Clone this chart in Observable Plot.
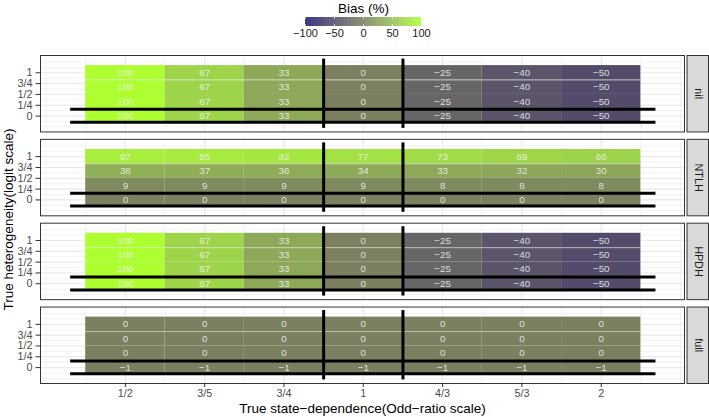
<!DOCTYPE html>
<html><head><meta charset="utf-8">
<script src="https://cdn.jsdelivr.net/npm/d3@7"></script>
<script src="https://cdn.jsdelivr.net/npm/@observablehq/plot@0.6"></script>
<style>
body{margin:0;background:#fff;}
#chart svg{display:block;}
</style></head><body><div id="chart"></div>
<script>
// ---- data ----
const panels = ["nil", "NTLH", "HPDH", "full"];
const stateLabels = ["1/2", "3/5", "3/4", "1", "4/3", "5/3", "2"];
const stateTicks = [0, 1, 2, 3, 4, 5, 6];
const heteroTickLabels = ["0", "1/4", "1/2", "3/4", "1"];
const heteroTicks = [0, 1, 2, 3, 4];
const heteroRows = [4, 2.667, 1.333, 0]; // tile rows, top to bottom
const biasNil = [
  [100, 67, 33, 0, -25, -40, -50],
  [100, 67, 33, 0, -25, -40, -50],
  [100, 67, 33, 0, -25, -40, -50],
  [100, 67, 33, 0, -25, -40, -50]
];
const biasNTLH = [
  [87, 85, 82, 77, 73, 69, 66],
  [38, 37, 36, 34, 33, 32, 30],
  [9, 9, 9, 9, 8, 8, 8],
  [0, 0, 0, 0, 0, 0, 0]
];
const biasHPDH = [
  [100, 67, 33, 0, -25, -40, -50],
  [100, 67, 33, 0, -25, -40, -50],
  [100, 67, 33, 0, -25, -40, -50],
  [100, 67, 33, 0, -25, -40, -50]
];
const biasFull = [
  [0, 0, 0, 0, 0, 0, 0],
  [0, 0, 0, 0, 0, 0, 0],
  [0, 0, 0, 0, 0, 0, 0],
  [-1, -1, -1, -1, -1, -1, -1]
];
const refH = [0.62, -0.57];          // thick horizontal reference lines (y units)
const refHSpan = [-0.69, 6.69];
const refV = [2.5, 3.5];             // thick vertical reference lines (x units)
const refVSpan = [-1.14, 5.27];
const legendTicks = [-100, -50, 0, 50, 100];
const legendTitle = "Bias (%)";
const xTitle = "True state\u2212dependence(Odd\u2212ratio scale)";
const yTitle = "True heterogeneity(logit scale)";

// ---- build table ----
const biasByPanel = {nil: biasNil, NTLH: biasNTLH, HPDH: biasHPDH, full: biasFull};
const cells = [];
for (const p of panels) biasByPanel[p].forEach((row, r) => row.forEach((v, c) =>
  cells.push({panel: p, x: stateTicks[c], y: heteroRows[r], bias: v})));
const halfRow = (heteroRows[0] - heteroRows[1]) / 2;
const topBoundary = (heteroRows[0] + heteroRows[1]) / 2;
const minorX = d3.range(-1, 7.01, 0.5);
const minorY = d3.range(-1, 5.01, 0.5);
const fmt = d => String(d).replace("-", "\u2212");

const FONT = '"Liberation Sans", Arial, Helvetica, sans-serif';
const colorOpts = {type: "linear", domain: [-100, 0, 100], range: ["#191970", "#7a8060", "#adff2f"], interpolate: "lab"};

// ---- legend ----
const legendSteps = d3.range(-100, 100, 1);
const legend = Plot.plot({
  width: 709, height: 45, marginLeft: 305, marginRight: 288, marginTop: 17, marginBottom: 19,
  style: {fontFamily: FONT, background: "white", overflow: "visible"},
  x: {domain: [-100, 100]},
  y: {domain: [0, 1]},
  color: colorOpts,
  marks: [
    Plot.rect(legendSteps, {x1: d => d, x2: d => d + 1.3, y1: 0, y2: 1, fill: d => d + 0.5}),
    Plot.ruleX(legendTicks, {y1: 0, y2: 0.2, stroke: "white", strokeWidth: 0.7}),
    Plot.ruleX(legendTicks, {y1: 0.8, y2: 1, stroke: "white", strokeWidth: 0.7}),
    Plot.axisX({ticks: legendTicks, tickSize: 0, tickPadding: 3, tickFormat: fmt, fontSize: 11, fill: "#1a1a1a", label: null}),
    Plot.axisY({ticks: [], tickSize: 0, label: null}),
    Plot.text([legendTitle], {frameAnchor: "top", dy: -4.5, lineAnchor: "bottom", fontSize: 13.5, fill: "black", text: d => d})
  ]
});

// ---- main ----
const main = Plot.plot({
  width: 709, height: 372, marginTop: 10, marginBottom: 34, marginLeft: 40, marginRight: 25,
  style: {fontFamily: FONT, background: "white", overflow: "visible"},
  x: {domain: [-1.07, 7.05]},
  y: {domain: [-1.47, 5.6]},
  fy: {domain: panels, paddingInner: 0.088, paddingOuter: 0, round: false},
  color: colorOpts,
  marks: [
    Plot.ruleX(minorX, {stroke: "#ebebeb", strokeWidth: 0.6}),
    Plot.ruleY(minorY, {stroke: "#ebebeb", strokeWidth: 0.6}),
    Plot.ruleX(stateTicks, {stroke: "#ebebeb", strokeWidth: 1.1}),
    Plot.ruleY(heteroTicks, {stroke: "#ebebeb", strokeWidth: 1.1}),
    Plot.rect(cells, {x1: d => d.x - 0.5, x2: d => d.x + 0.5, y1: d => d.y - halfRow, y2: d => d.y + halfRow, fy: "panel", fill: "bias"}),
    Plot.ruleY([topBoundary], {x1: stateTicks[0] - 0.5, x2: stateTicks[6] + 0.5, stroke: "#e2e8d4", strokeOpacity: 0.7, strokeWidth: 0.9}),
    Plot.text(cells, {x: "x", y: "y", fy: "panel", text: d => fmt(d.bias), fill: "#f4f4f4", fillOpacity: 0.85, fontSize: 9.8}),
    Plot.ruleY(refH, {x1: refHSpan[0], x2: refHSpan[1], stroke: "black", strokeWidth: 3}),
    Plot.ruleX(refV, {y1: refVSpan[0], y2: refVSpan[1], stroke: "black", strokeWidth: 3}),
    Plot.frame({stroke: "#333", strokeWidth: 1}),
    Plot.frame({fill: "#d9d9d9", stroke: "#333", strokeWidth: 1, insetLeft: 646.5, insetRight: -24}),
    Plot.axisFy({anchor: "right", tickSize: 0, tickRotate: 90, tickPadding: 13.5, lineAnchor: "middle", fontSize: 10.8, fill: "#1a1a1a", label: null}),
    Plot.axisY({ticks: heteroTicks, tickFormat: d => heteroTickLabels[heteroTicks.indexOf(d)], tickSize: 4.5, tickPadding: 3.5, fontSize: 10.8, stroke: "#333", fill: "#4d4d4d", label: null}),
    Plot.axisY({ticks: [], tickSize: 0, label: yTitle, labelAnchor: "center", labelArrow: false, labelOffset: 37, fontSize: 13.5, fill: "black"}),
    Plot.axisX({ticks: stateTicks, tickFormat: d => stateLabels[stateTicks.indexOf(d)], tickSize: 4, tickPadding: 2, fontSize: 10.8, stroke: "#333", fill: "#4d4d4d", label: null}),
    Plot.axisX({ticks: [], tickSize: 0, label: xTitle, labelAnchor: "center", labelArrow: false, labelOffset: 29, fontSize: 13.5, fill: "black"})
  ]
});

const root = document.getElementById("chart");
root.appendChild(legend);
root.appendChild(main);
</script>
</body></html>
